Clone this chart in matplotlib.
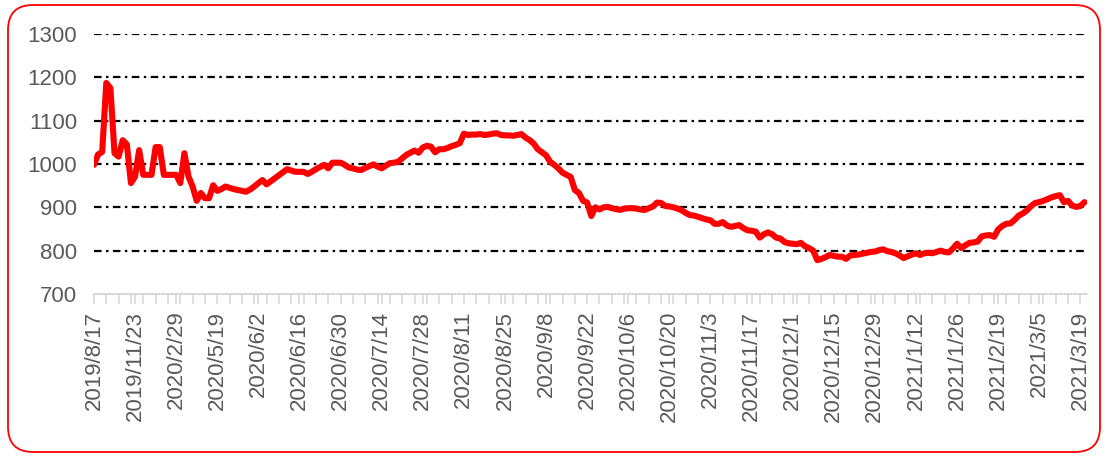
import matplotlib
matplotlib.use("Agg")
import matplotlib.pyplot as plt
from matplotlib.patches import FancyBboxPatch
from matplotlib.transforms import IdentityTransform

plt.rcParams['font.family'] = ['Liberation Sans', 'DejaVu Sans']

# price series, one value per category
values = [
    998, 1022, 1028, 1187, 1175, 1025, 1017, 1055, 1045, 956,
    971, 1032, 975, 975, 975, 1039, 1039, 975, 975, 975,
    975, 956, 1025, 971, 948, 915, 933, 921, 921, 951,
    938, 942, 948, 945, 942, 940, 938, 936, 941, 948,
    956, 963, 953, 960, 967, 974, 981, 988, 985, 982,
    982, 982, 977, 982, 988, 993, 998, 990, 1003, 1003,
    1003, 998, 992, 990, 987, 986, 991, 995, 999, 994,
    990, 996, 1002, 1003, 1005, 1013, 1021, 1026, 1031, 1026,
    1038, 1042, 1040, 1027, 1034, 1034, 1037, 1041, 1044, 1048,
    1070, 1067, 1068, 1068, 1069, 1067, 1068, 1070, 1071, 1067,
    1066, 1066, 1065, 1067, 1069, 1061, 1055, 1047, 1034, 1027,
    1020, 1005, 998, 990, 980, 975, 970, 940, 933, 915,
    911, 880, 900, 895, 900, 901, 898, 896, 894, 897,
    898, 898, 897, 895, 894, 898, 902, 911, 910, 903,
    902, 900, 897, 893, 887, 882, 881, 878, 875, 872,
    870, 862, 862, 866, 858, 855, 857, 859, 852, 847,
    846, 844, 830, 838, 842, 838, 830, 828, 820, 817,
    816, 815, 818, 810, 806, 800, 778, 781, 785, 790,
    788, 786, 786, 781, 789, 790, 791, 793, 795, 797,
    798, 801, 803, 799, 797, 794, 789, 783, 787, 791,
    794, 790, 794, 795, 794, 797, 800, 797, 796, 805,
    816, 806, 812, 818, 819, 821, 833, 835, 836, 832,
    849, 857, 862, 863, 871, 881, 886, 893, 903, 910,
    912, 915, 919, 923, 926, 928, 912, 915, 904, 901,
    903, 912,
]

# every tenth category is labelled
tick_labels = [
    "2019/8/17", "2019/11/23", "2020/2/29", "2020/5/19", "2020/6/2",
    "2020/6/16", "2020/6/30", "2020/7/14", "2020/7/28", "2020/8/11",
    "2020/8/25", "2020/9/8", "2020/9/22", "2020/10/6", "2020/10/20",
    "2020/11/3", "2020/11/17", "2020/12/1", "2020/12/15", "2020/12/29",
    "2021/1/12", "2021/1/26", "2021/2/19", "2021/3/5", "2021/3/19",
]
label_step = 10
yticks = [700, 800, 900, 1000, 1100, 1200, 1300]

fig = plt.figure(figsize=(11.08, 4.57), dpi=100)
ax = fig.add_axes([0.0848, 0.3567, 0.8962, 0.5689])

x = list(range(len(values)))
ax.plot(x, values, color="#FF0000", lw=4.4, solid_joinstyle="round",
        solid_capstyle="round", zorder=3)

ax.set_ylim(700, 1300)
ax.set_xlim(0, 241.6)
ax.set_yticks(yticks)
ax.set_yticklabels([str(v) for v in yticks])

ax.set_xticks(range(0, len(values), label_step))
ax.set_xticklabels(tick_labels, rotation=90)
ax.set_xticks(range(0, len(values), 3), minor=True)

# dash-dot gridlines
for v in yticks[1:]:
    ax.axhline(v, color="black", lw=1.6, ls=(0, (3.4, 2.0, 1.1, 2.0)), zorder=1)

for s in ["top", "right", "left"]:
    ax.spines[s].set_visible(False)
ax.spines["bottom"].set_color("#d9d9d9")
ax.spines["bottom"].set_linewidth(1.5)

ax.tick_params(axis="y", length=0, pad=12, labelsize=16, labelcolor="#595959")
ax.tick_params(axis="x", which="both", direction="out", length=7, width=1.2,
               color="#d9d9d9", labelsize=16, labelcolor="#595959", pad=5)

# rounded red frame around the whole picture
frame = FancyBboxPatch((8, 5), 1092, 447, boxstyle="round,pad=0,rounding_size=25",
                       transform=IdentityTransform(), fill=False,
                       edgecolor="#FF0000", lw=1.3)
fig.add_artist(frame)

fig.savefig("out.png", dpi=100)
